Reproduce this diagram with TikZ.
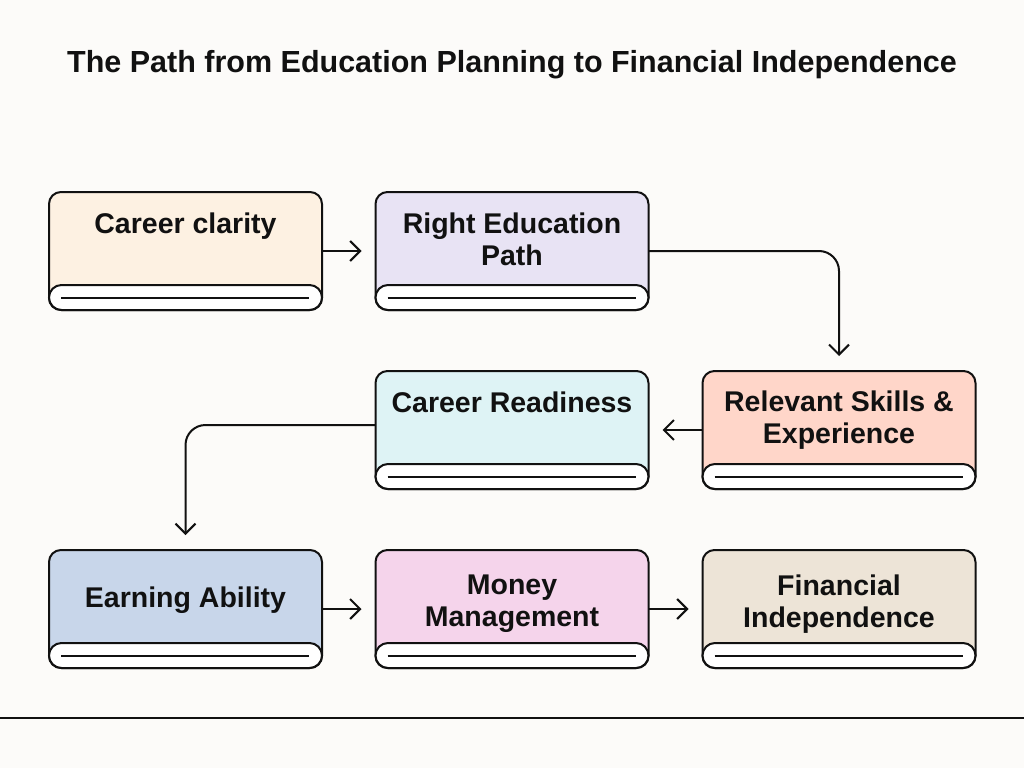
\documentclass[tikz,border=0pt]{standalone}
\usepackage{fontspec}
\setmainfont{Liberation Sans}
\usetikzlibrary{arrows.meta,calc}
\definecolor{bg}{HTML}{FCFBF9}
\definecolor{ink}{HTML}{111111}
\definecolor{cPeach}{HTML}{FDF1E2}
\definecolor{cLav}{HTML}{E8E3F4}
\definecolor{cCyan}{HTML}{DEF3F5}
\definecolor{cSalmon}{HTML}{FFD6C9}
\definecolor{cBlue}{HTML}{C8D6EA}
\definecolor{cPink}{HTML}{F5D4EB}
\definecolor{cBeige}{HTML}{EDE4D7}
\begin{document}
\begin{tikzpicture}[x=1pt,y=-1pt,
  box/.style={draw=ink, line width=2pt, rounded corners=12pt, minimum width=273pt, minimum height=118pt, inner sep=0pt, outer sep=0pt},
  lbl/.style={font=\bfseries\fontsize{28.5}{32}\selectfont, align=center, text=ink, inner sep=0pt},
  arr/.style={draw=ink, line width=2pt, -{Straight Barb[length=10pt,width=20pt,line width=2pt]}},
  band/.style={draw=ink, line width=2pt, fill=white, rounded corners=12.5pt}]
\fill[bg] (0,0) rectangle (1024,768);
\useasboundingbox (0,0) rectangle (1024,768);

\node[font=\bfseries\fontsize{30.5}{34}\selectfont, text=ink, inner sep=0pt] (title) at (512,65) {The Path from Education Planning to Financial Independence};

\node[box, fill=cPeach]  (cc)  at (185.5,251) {};
\node[box, fill=cLav]    (rep) at (512,251) {};
\node[box, fill=cCyan]   (cr)  at (512,430) {};
\node[box, fill=cSalmon] (rse) at (839,430) {};
\node[box, fill=cBlue]   (ea)  at (185.5,609) {};
\node[box, fill=cPink]   (mm)  at (512,609) {};
\node[box, fill=cBeige]  (fi)  at (839,609) {};

\foreach \n in {cc,rep,cr,rse,ea,mm,fi}{
  \draw[band] ([yshift=25pt]\n.south west) rectangle (\n.south east);
  \draw[draw=ink, line width=2pt] ([xshift=12pt,yshift=12.5pt]\n.south west) -- ([xshift=-13pt,yshift=12.5pt]\n.south east);
}

\node[lbl] (cc-t)  at (185.5,226) {Career clarity};
\node[lbl] (rep-t) at (512,239) {Right Education\\Path};
\node[lbl] (cr-t)  at (512,402) {Career Readiness};
\node[lbl] (rse-t) at (839,420) {Relevant Skills \&\\Experience};
\node[lbl] (ea-t)  at (185.5,600) {Earning Ability};
\node[lbl] (mm-t)  at (512,604) {Money\\Management};
\node[lbl] (fi-t)  at (839,604) {Financial\\Independence};

\draw[arr] (cc.east) -- ([xshift=-14pt]rep.west);
\draw[arr, rounded corners=20pt] (rep.east) -| ([yshift=15pt]rse.north);
\draw[arr] (rse.west) -- ([xshift=14pt]cr.east);
\draw[arr, rounded corners=20pt] ([yshift=5pt]cr.west) -| ([yshift=15pt]ea.north);
\draw[arr] (ea.east) -- ([xshift=-14pt]mm.west);
\draw[arr] (mm.east) -- ([xshift=-14pt]fi.west);

\coordinate (rl) at (0,718);
\coordinate (rr) at (1024,718);
\draw[draw=ink, line width=2.5pt] (rl) -- (rr);
\end{tikzpicture}
\end{document}
